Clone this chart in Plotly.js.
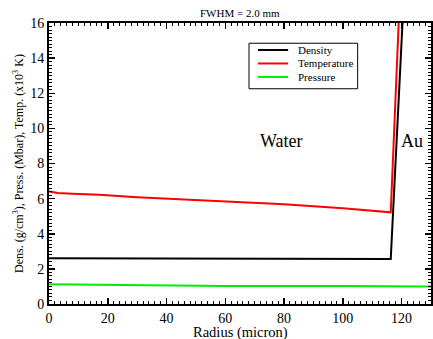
<!DOCTYPE html>
<html><head><meta charset="utf-8">
<script src="https://cdn.plot.ly/plotly-3.0.1.min.js"></script>
<style>html,body{margin:0;padding:0;background:#fff}</style>
</head><body>
<div id="chart" style="width:433px;height:339px"></div>
<script>
const densityX = [0, 20, 40, 116.3, 120.3];
const densityY = [2.6, 2.6, 2.56, 2.56, 16];
const tempX = [0, 3, 8, 17, 30, 40, 60, 80, 100, 110, 116.3, 119.0];
const tempY = [6.4, 6.32, 6.28, 6.22, 6.08, 6.0, 5.85, 5.68, 5.45, 5.3, 5.22, 16];
const pressX = [0, 17, 35, 60, 100, 130];
const pressY = [1.13, 1.1, 1.03, 1.02, 1.02, 1.0];
const seriesNames = ['Density', 'Temperature', 'Pressure'];
const seriesColors = ['#000000', '#ff0000', '#00ee00'];
const labels = [{text: 'Water', x: 79, y: 9.28}, {text: 'Au', x: 123.7, y: 9.28}];

const font = '"Liberation Serif", "Times New Roman", Times, serif';
const traces = [
  {x: densityX, y: densityY, name: seriesNames[0], mode: 'lines', line: {color: seriesColors[0], width: 2}},
  {x: tempX, y: tempY, name: seriesNames[1], mode: 'lines', line: {color: seriesColors[1], width: 2}},
  {x: pressX, y: pressY, name: seriesNames[2], mode: 'lines', line: {color: seriesColors[2], width: 2}}
];
const axisCommon = {
  showgrid: false, zeroline: false, showline: true, linecolor: '#000', linewidth: 2,
  mirror: 'ticks', ticks: 'inside', ticklen: 6, tickwidth: 1.5, tickcolor: '#000',
  tickfont: {family: font, size: 14, color: '#000'}
};
// manual legend (box, sample lines, labels) in paper coordinates
const legBox = {x0: 0.5236, x1: 0.808, y0: 0.766, y1: 0.928};
const legRows = [0.904, 0.856, 0.808];
const shapes = [{type: 'rect', xref: 'paper', yref: 'paper', x0: legBox.x0, x1: legBox.x1, y0: legBox.y0, y1: legBox.y1,
  line: {color: '#000', width: 1}, fillcolor: '#fff', layer: 'above'}];
const annotations = labels.map(l => ({text: l.text, x: l.x, y: l.y, xref: 'x', yref: 'y', showarrow: false,
  font: {family: font, size: 18, color: '#000'}}));
seriesNames.forEach((n, i) => {
  shapes.push({type: 'line', xref: 'paper', yref: 'paper', x0: 0.547, x1: 0.626, y0: legRows[i], y1: legRows[i],
    line: {color: seriesColors[i], width: 2}, layer: 'above'});
  annotations.push({text: n, xref: 'paper', yref: 'paper', x: 0.647, y: legRows[i], xanchor: 'left', yanchor: 'middle',
    showarrow: false, font: {family: font, size: 11, color: '#000'}});
});
annotations.push({text: 'Radius (micron)', xref: 'paper', yref: 'paper', x: 0.5, y: -0.1, xanchor: 'center', yanchor: 'middle',
  showarrow: false, font: {family: font, size: 14.5, color: '#000'}});
annotations.push({text: 'FWHM = 2.0 mm', xref: 'paper', yref: 'paper', x: 0.5, y: 1.036, xanchor: 'center', yanchor: 'middle',
  showarrow: false, font: {family: font, size: 11, color: '#000'}});

const layout = {
  width: 433, height: 339,
  margin: {l: 49, r: 2, t: 23, b: 35},
  font: {family: font, color: '#000'},
  paper_bgcolor: '#fff', plot_bgcolor: '#fff',
  xaxis: Object.assign({}, axisCommon, {
    range: [0, 130], dtick: 20, tick0: 0,
    minor: {dtick: 2, ticklen: 3, tickwidth: 1, ticks: 'inside', tickcolor: '#000'}
  }),
  yaxis: Object.assign({}, axisCommon, {
    range: [0, 16], dtick: 2, tick0: 0,
    minor: {dtick: 0.2, ticklen: 3, tickwidth: 1, ticks: 'inside', tickcolor: '#000'},
    title: {text: 'Dens. (g/cm<sup>3</sup>), Press. (Mbar), Temp. (x10<sup>3</sup> K)', font: {family: font, size: 12, color: '#000'}, standoff: 4}
  }),
  showlegend: false,
  shapes: shapes,
  annotations: annotations
};
Plotly.newPlot('chart', traces, layout, {displayModeBar: false, staticPlot: true});
</script>
</body></html>
